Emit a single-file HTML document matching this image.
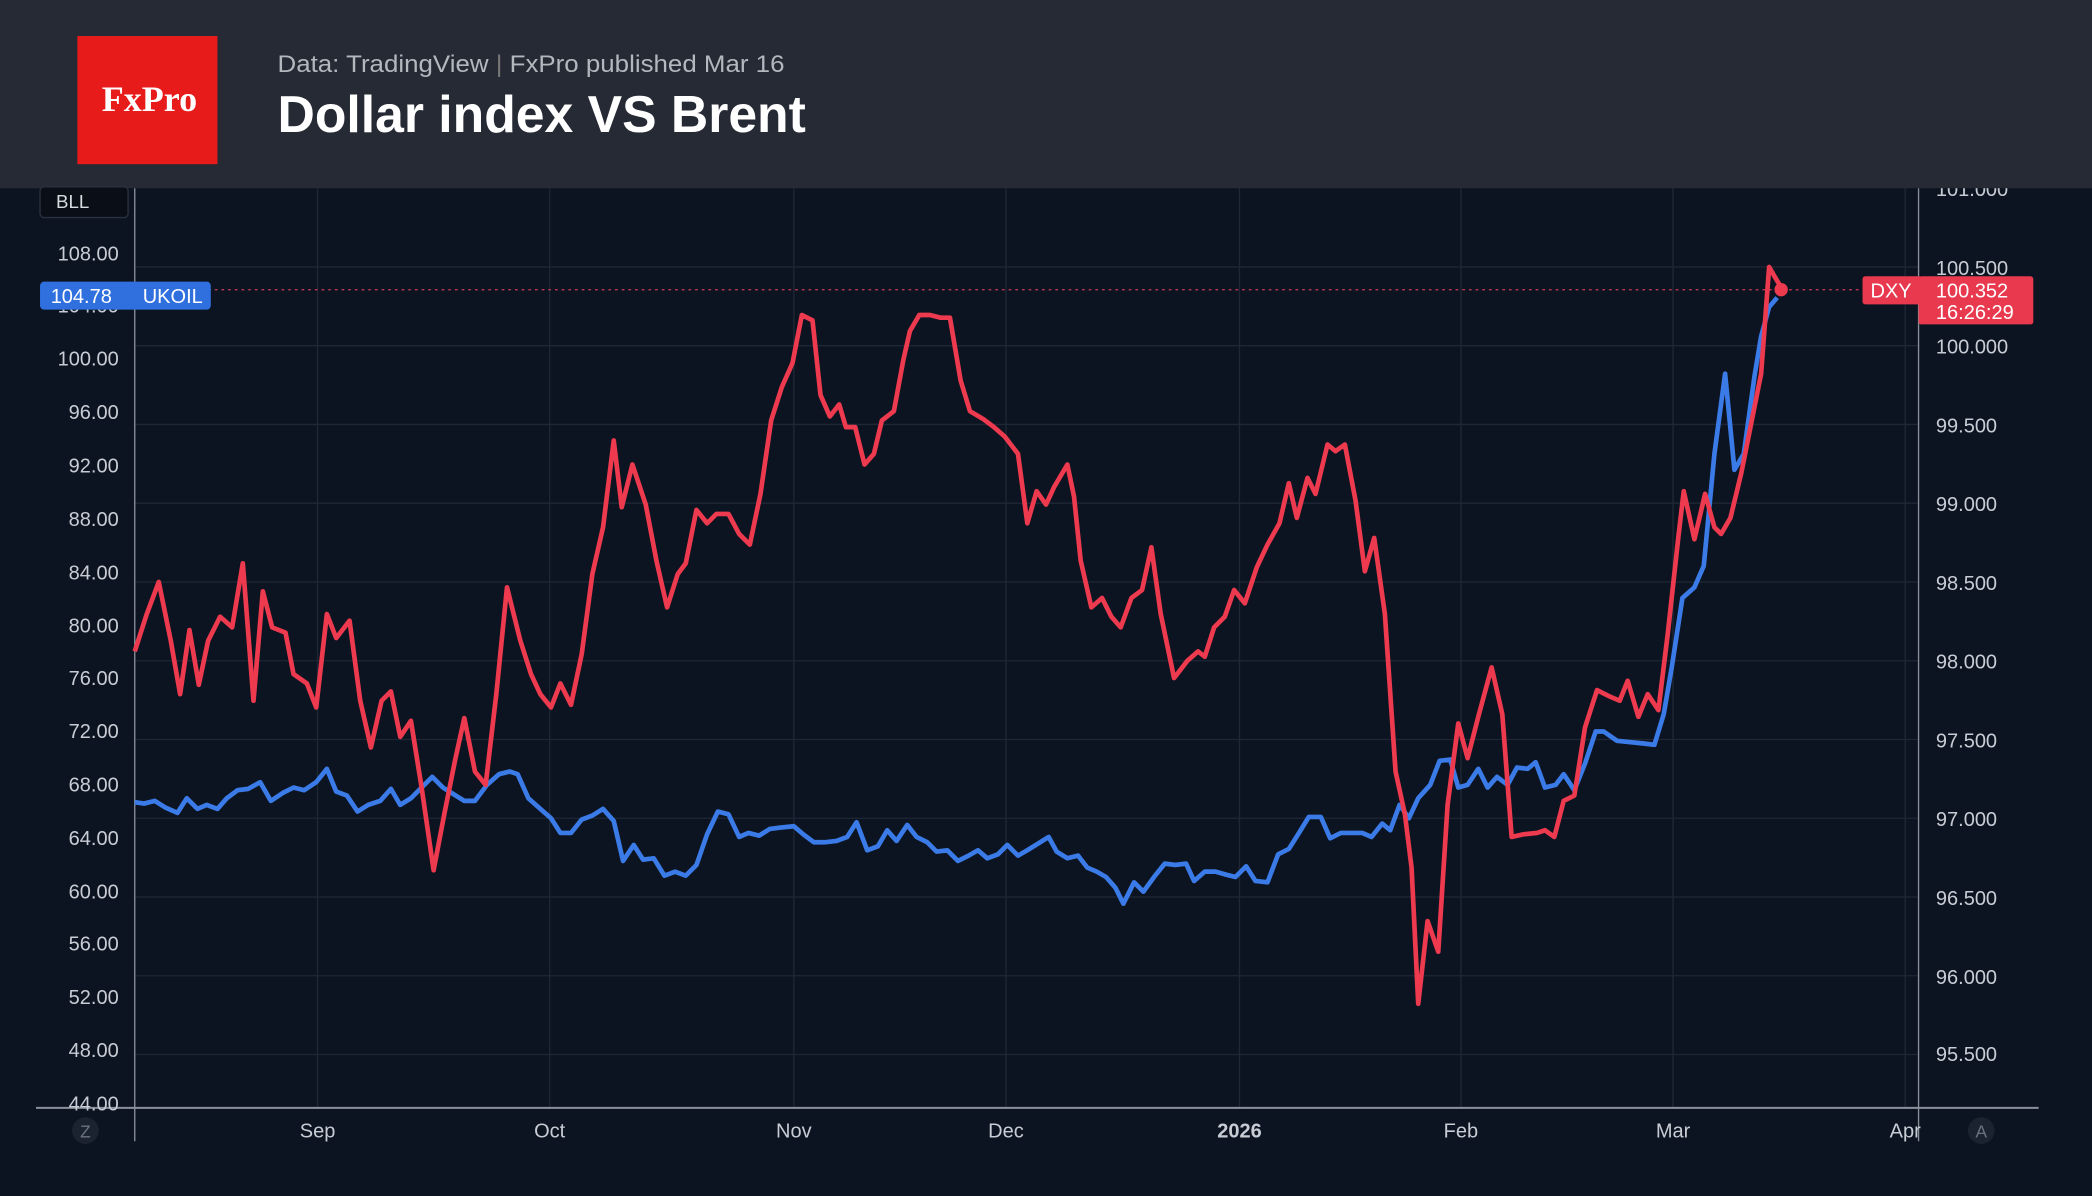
<!DOCTYPE html>
<html><head><meta charset="utf-8"><style>
html,body{margin:0;padding:0;background:#0d1421;}
svg{display:block;}
text{font-family:"Liberation Sans",sans-serif;}
</style></head><body>
<svg width="2092" height="1196" viewBox="0 0 1568 896" preserveAspectRatio="none" xmlns="http://www.w3.org/2000/svg">
<rect width="1568" height="896" fill="#0d1421"/>
<g stroke="#1f2736" stroke-width="1">
<line x1="101" y1="200" x2="1438" y2="200"/><line x1="101" y1="259" x2="1438" y2="259"/><line x1="101" y1="318" x2="1438" y2="318"/><line x1="101" y1="377" x2="1438" y2="377"/><line x1="101" y1="436" x2="1438" y2="436"/><line x1="101" y1="495" x2="1438" y2="495"/><line x1="101" y1="554" x2="1438" y2="554"/><line x1="101" y1="613" x2="1438" y2="613"/><line x1="101" y1="672" x2="1438" y2="672"/><line x1="101" y1="731" x2="1438" y2="731"/><line x1="101" y1="790" x2="1438" y2="790"/>
<line x1="238" y1="141" x2="238" y2="830"/><line x1="412" y1="141" x2="412" y2="830"/><line x1="595" y1="141" x2="595" y2="830"/><line x1="754" y1="141" x2="754" y2="830"/><line x1="929" y1="141" x2="929" y2="830"/><line x1="1095" y1="141" x2="1095" y2="830"/><line x1="1254" y1="141" x2="1254" y2="830"/><line x1="1428" y1="141" x2="1428" y2="830"/>
</g>
<line x1="101" y1="141" x2="101" y2="855" stroke="#8a909c" stroke-width="1"/>
<line x1="1438" y1="141" x2="1438" y2="855" stroke="#8a909c" stroke-width="1"/>
<line x1="27" y1="830" x2="1528" y2="830" stroke="#8a909c" stroke-width="1.5"/>
<g fill="#c8ccd4" font-size="15" text-anchor="end">
<text x="89" y="195">108.00</text><text x="89" y="234">104.00</text><text x="89" y="274">100.00</text><text x="89" y="314">96.00</text><text x="89" y="354">92.00</text><text x="89" y="394">88.00</text><text x="89" y="434">84.00</text><text x="89" y="474">80.00</text><text x="89" y="513">76.00</text><text x="89" y="553">72.00</text><text x="89" y="593">68.00</text><text x="89" y="633">64.00</text><text x="89" y="673">60.00</text><text x="89" y="712">56.00</text><text x="89" y="752">52.00</text><text x="89" y="792">48.00</text><text x="89" y="832">44.00</text>
</g>
<g fill="#c8ccd4" font-size="15">
<text x="1451" y="147">101.000</text><text x="1451" y="206">100.500</text><text x="1451" y="265">100.000</text><text x="1451" y="324">99.500</text><text x="1451" y="383">99.000</text><text x="1451" y="442">98.500</text><text x="1451" y="501">98.000</text><text x="1451" y="560">97.500</text><text x="1451" y="619">97.000</text><text x="1451" y="678">96.500</text><text x="1451" y="737">96.000</text><text x="1451" y="795">95.500</text>
</g>
<g fill="#c8ccd4" font-size="15" text-anchor="middle">
<text x="238" y="852">Sep</text><text x="412" y="852">Oct</text><text x="595" y="852">Nov</text><text x="754" y="852">Dec</text><text x="929" y="852" font-weight="bold">2026</text><text x="1095" y="852">Feb</text><text x="1254" y="852">Mar</text><text x="1428" y="852">Apr</text>
</g>
<circle cx="64" cy="847" r="10" fill="#1c2330"/><text x="64" y="852" fill="#6b7280" font-size="13" text-anchor="middle">Z</text>
<circle cx="1485" cy="847" r="10" fill="#1c2330"/><text x="1485" y="852" fill="#6b7280" font-size="13" text-anchor="middle">A</text>
<rect x="0" y="0" width="1568" height="141" fill="#262a34"/>
<rect x="58" y="27" width="105" height="96" fill="#e81b1b"/>
<text x="112" y="83" fill="#fff" font-size="27" font-weight="bold" text-anchor="middle" style="font-family:'Liberation Serif',serif">FxPro</text>
<text x="208" y="54" fill="#b4b7bd" font-size="18" textLength="380" lengthAdjust="spacingAndGlyphs">Data: TradingView <tspan fill="#777">|</tspan> FxPro published Mar 16</text>
<text x="208" y="99" fill="#fff" font-size="39" font-weight="bold" textLength="396" lengthAdjust="spacingAndGlyphs">Dollar index VS Brent</text>
<rect x="30" y="140" width="66" height="23" rx="3" fill="#0a0e16" stroke="#2a3140"/>
<text x="42" y="156" fill="#d8dbe0" font-size="14">BLL</text>
<line x1="101" y1="217" x2="1396" y2="217" stroke="#e8415a" stroke-width="1" stroke-dasharray="2,3" opacity="0.8"/>
<polyline fill="none" stroke="#3b7be8" stroke-width="3.5" stroke-linejoin="round" points="101,601 108,602 116,600 124,605 133,609 140,598 148,606 155,603 163,606 170,598 178,592 186,591 195,586 203,600 212,594 220,590 228,592 237,586 245,576 252,593 260,596 268,608 276,603 285,600 293,591 300,603 308,598 316,590 324,582 332,590 340,595 348,600 356,600 365,588 374,580 382,578 388,580 396,598 405,606 413,613 420,624 428,624 436,614 444,611 452,606 460,615 467,645 475,633 482,644 490,643 498,656 506,653 514,656 522,648 530,625 538,608 546,610 554,627 561,624 569,626 577,621 585,620 595,619 602,625 610,631 618,631 627,630 635,627 642,616 650,637 658,634 665,622 672,630 680,618 687,627 695,631 702,638 710,637 718,645 726,641 733,637 740,643 748,640 755,633 763,641 770,637 778,632 786,627 792,638 800,643 808,641 815,650 822,653 829,657 836,665 842,677 850,661 857,668 865,657 873,647 881,648 889,647 895,660 903,653 911,653 918,655 926,657 934,649 941,660 950,661 958,640 966,636 973,625 981,612 990,612 997,628 1005,624 1013,624 1021,624 1028,627 1036,617 1042,622 1049,603 1056,613 1063,598 1072,588 1079,570 1087,569 1093,590 1100,588 1108,576 1115,590 1122,582 1130,588 1137,575 1145,576 1151,571 1158,590 1166,588 1172,580 1180,592 1188,572 1196,548 1202,548 1212,555 1222,556 1232,557 1240,558 1247,535 1253,500 1261,448 1270,440 1277,424 1285,340 1293,280 1300,352 1307,340 1315,282 1320,252 1326,230 1332,223"/>
<polyline fill="none" stroke="#ee3a4e" stroke-width="3.5" stroke-linejoin="round" points="101,488 110,460 119,436 128,480 135,520 142,472 149,513 156,480 165,462 174,470 182,422 190,525 197,443 204,470 214,474 220,505 230,512 237,530 245,460 252,478 262,465 270,525 278,560 286,525 293,518 300,552 308,540 316,590 325,652 333,610 341,570 348,538 356,578 364,588 372,520 380,440 390,480 398,505 405,520 413,530 420,512 428,528 436,490 444,430 452,395 460,330 466,380 474,348 484,378 492,420 500,455 508,430 514,422 522,382 530,392 537,385 546,385 554,400 562,408 570,370 578,315 586,290 594,272 601,236 609,240 615,296 622,312 629,303 634,320 641,320 648,348 655,340 661,315 670,308 677,270 682,248 689,236 697,236 705,238 712,238 720,285 727,308 737,314 745,320 753,327 763,340 770,392 777,368 784,378 790,365 800,348 805,372 810,420 818,455 826,448 833,462 840,470 848,448 856,442 863,410 870,460 880,508 890,495 898,488 903,492 910,470 918,462 925,442 933,452 942,425 950,408 959,392 966,362 972,388 980,358 986,370 995,333 1001,338 1008,333 1016,375 1023,428 1030,403 1038,460 1046,578 1053,610 1058,650 1063,752 1070,690 1078,713 1085,603 1093,542 1100,568 1108,537 1118,500 1126,535 1133,627 1142,625 1152,624 1158,622 1165,627 1172,600 1180,596 1188,545 1197,517 1207,522 1214,525 1220,510 1228,537 1235,520 1243,532 1250,475 1258,402 1262,368 1270,404 1278,370 1285,395 1290,400 1297,388 1305,355 1312,320 1320,280 1326,200 1330,207 1336,217"/>
<circle cx="1335" cy="217" r="5" fill="#ee3a4e"/>
<rect x="30" y="211" width="128" height="21" rx="3" fill="#2f6fde"/>
<text x="38" y="227" fill="#fff" font-size="15">104.78</text><text x="107" y="227" fill="#fff" font-size="15">UKOIL</text>
<rect x="1396" y="207" width="44" height="21" rx="2" fill="#e8394e"/>
<text x="1402" y="223" fill="#fff" font-size="15">DXY</text>
<rect x="1438" y="207" width="86" height="36" rx="2" fill="#e8394e"/>
<text x="1451" y="223" fill="#fff" font-size="15">100.352</text>
<text x="1451" y="239" fill="#fff" font-size="15">16:26:29</text>
</svg>
</body></html>
